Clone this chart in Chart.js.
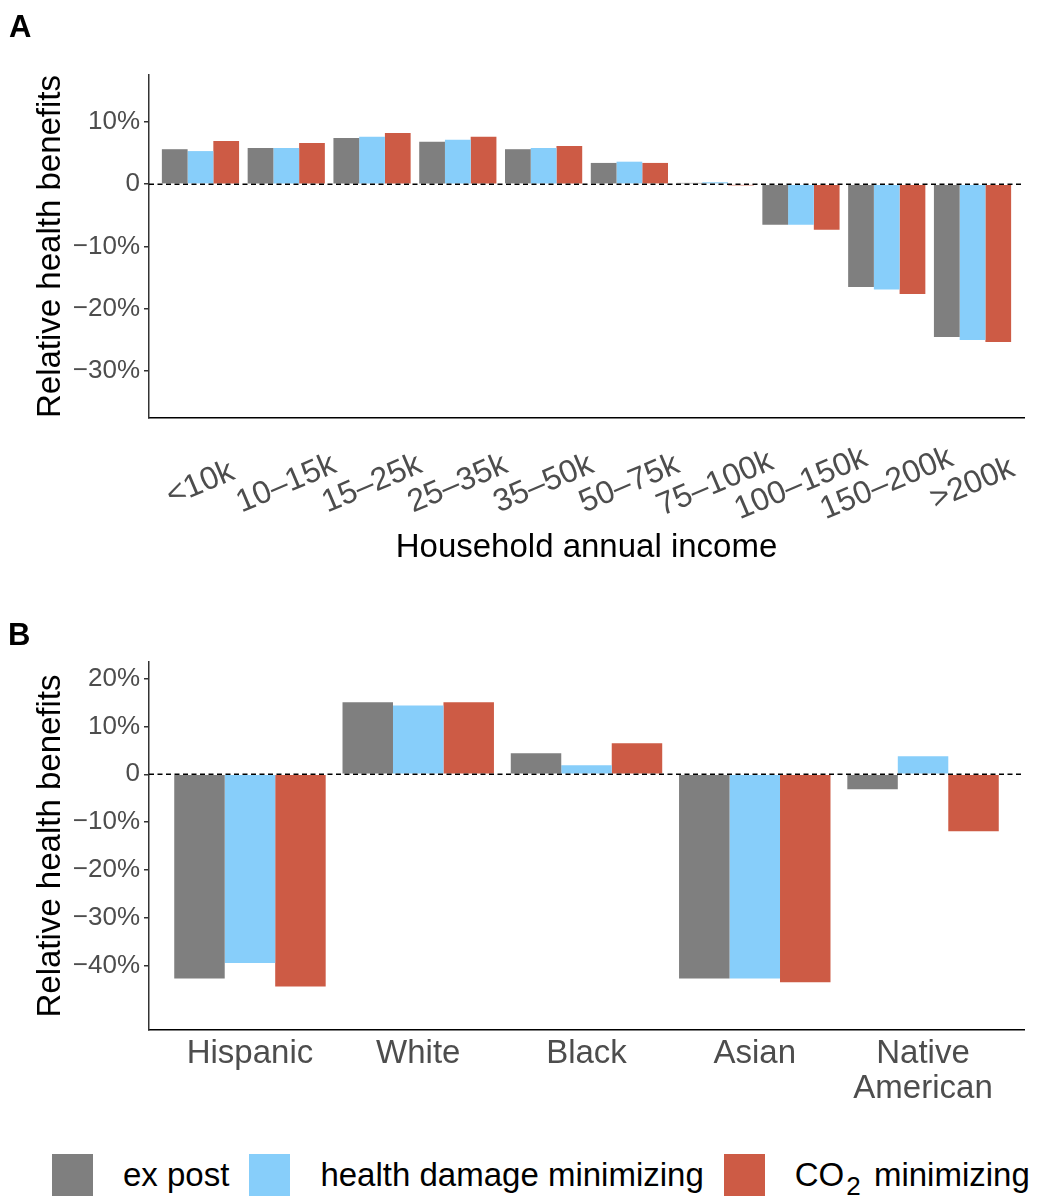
<!DOCTYPE html>
<html>
<head>
<meta charset="utf-8">
<script src="https://cdn.jsdelivr.net/npm/chart.js@4.4.0/dist/chart.umd.min.js"></script>
<style>
  html, body { margin: 0; padding: 0; background: #fff; }
  body { width: 1039px; height: 1197px; position: relative; overflow: hidden;
         font-family: "Liberation Sans", Arial, Helvetica, sans-serif; }
  canvas { position: absolute; left: 0; }
  #chartA { top: 0; }
  #chartB { top: 590px; }
  #legend { position: absolute; left: 52px; top: 1154px; height: 42px; display: flex;
            align-items: center; font-size: 33px; color: #000; white-space: nowrap; }
  .key { width: 41px; height: 42px; margin-right: 30px; flex: none; }
  .lab { margin-right: 20px; }
  .lab sub { font-size: 26px; vertical-align: -9px; line-height: 0; margin: 0 4px 0 2px; }
</style>
</head>
<body>
<canvas id="chartA" width="1039" height="590"></canvas>
<canvas id="chartB" width="1039" height="540"></canvas>
<div id="legend"></div>

<script>
// Relative health benefits (%) by household annual income
const incomeLabels = ['<10k', '10–15k', '15–25k', '25–35k', '35–50k', '50–75k', '75–100k', '100–150k', '150–200k', '>200k'];
const incomeExPost = [5.6, 5.8, 7.4, 6.8, 5.6, 3.4, 0.2, -6.5, -16.5, -24.5];
const incomeHealth = [5.3, 5.8, 7.6, 7.1, 5.8, 3.6, 0.3, -6.5, -16.9, -25.0];
const incomeCO2    = [6.9, 6.6, 8.2, 7.6, 6.1, 3.4, -0.2, -7.3, -17.6, -25.3];
const incomeTicks  = [10, 0, -10, -20, -30];

// Relative health benefits (%) by race / ethnicity
const raceLabels = ['Hispanic', 'White', 'Black', 'Asian', ['Native', 'American']];
const raceExPost = [-42.7, 15.1, 4.4, -42.7, -3.1];
const raceHealth = [-39.5, 14.4, 1.9, -42.7, 3.8];
const raceCO2    = [-44.4, 15.1, 6.5, -43.5, -11.9];
const raceTicks  = [20, 10, 0, -10, -20, -30, -40];

const seriesNames  = ['ex post', 'health damage minimizing', 'CO₂ minimizing'];
const seriesColors = ['#7F7F7F', '#87CEFA', '#CD5B45'];

const FONT = '"Liberation Sans", Arial, Helvetica, sans-serif';
const TICK_GREY = '#4D4D4D';
const AXIS_GREY = '#333333';

function pctLabel(v) {
  if (v === 0) return '0';
  return (v < 0 ? '\u2212' : '') + Math.abs(v) + '%';
}

// dashed reference line at zero, drawn over the bars
const zeroLine = {
  id: 'zeroLine',
  afterDatasetsDraw(chart) {
    const { ctx, chartArea } = chart;
    const y = chart.scales.y.getPixelForValue(0);
    ctx.save();
    ctx.beginPath();
    ctx.setLineDash([5, 3.5]);
    ctx.lineWidth = 1.5;
    ctx.strokeStyle = '#000';
    ctx.moveTo(chartArea.left, y);
    ctx.lineTo(chartArea.right, y);
    ctx.stroke();
    ctx.restore();
  }
};

// panel letter in the top-left corner
const panelTag = {
  id: 'panelTag',
  afterDraw(chart, args, opts) {
    const { ctx } = chart;
    ctx.save();
    ctx.font = 'bold 31px ' + FONT;
    ctx.fillStyle = '#000';
    ctx.textAlign = 'left';
    ctx.textBaseline = 'alphabetic';
    ctx.fillText(opts.text, opts.x, opts.y);
    ctx.restore();
  }
};

// slanted income-bracket labels, centred under each group
const slantedLabels = {
  id: 'slantedLabels',
  afterDraw(chart, args, opts) {
    if (!opts.labels) return;
    const { ctx, chartArea } = chart;
    const xs = chart.scales.x;
    ctx.save();
    ctx.font = opts.size + 'px ' + FONT;
    ctx.fillStyle = TICK_GREY;
    ctx.textAlign = 'center';
    ctx.textBaseline = 'middle';
    opts.labels.forEach((t, i) => {
      ctx.save();
      ctx.translate(xs.getPixelForValue(i), chartArea.bottom + opts.offset);
      ctx.rotate(-opts.angle * Math.PI / 180);
      ctx.fillText(t, 0, 0);
      ctx.restore();
    });
    ctx.restore();
  }
};

function makeChart(canvasId, cfg) {
  const n = cfg.labels.length;
  const datasets = [cfg.exPost, cfg.health, cfg.co2].map((vals, k) => ({
    label: seriesNames[k],
    data: vals.map((v, i) => ({ x: i, y: v })),
    backgroundColor: seriesColors[k],
    borderWidth: 0,
    categoryPercentage: 0.9,
    barPercentage: 1.0
  }));

  return new Chart(document.getElementById(canvasId), {
    type: 'bar',
    data: { datasets },
    plugins: [zeroLine, panelTag, slantedLabels],
    options: {
      responsive: false,
      animation: false,
      events: [],
      layout: { padding: { left: 0, right: 15, top: cfg.padTop, bottom: 0 } },
      plugins: {
        legend: { display: false },
        tooltip: { enabled: false },
        panelTag: cfg.tag,
        slantedLabels: cfg.slanted || {}
      },
      scales: {
        x: {
          type: 'linear',
          offset: false,
          min: -0.6,
          max: n - 1 + 0.6,
          afterBuildTicks: s => { s.ticks = cfg.labels.map((_, i) => ({ value: i })); },
          afterFit: s => { s.height = cfg.xHeight; },
          grid: { display: false, drawTicks: false, offset: false },
          border: { display: true, color: '#000', width: 1.5 },
          ticks: {
            display: cfg.xTicksShown,
            autoSkip: false,
            maxRotation: 0,
            minRotation: 0,
            padding: 6,
            color: TICK_GREY,
            font: { family: FONT, size: 33, lineHeight: 1.07 },
            callback: v => cfg.labels[v]
          },
          title: cfg.xTitle
        },
        y: {
          min: cfg.yMin,
          max: cfg.yMax,
          afterBuildTicks: s => { s.ticks = cfg.yTicks.map(v => ({ value: v })); },
          afterFit: s => { s.width = 149; },
          grid: { display: true, drawOnChartArea: false, drawTicks: true, tickLength: 5,
                  color: AXIS_GREY, lineWidth: 1.5 },
          border: { display: true, color: AXIS_GREY, width: 1.5 },
          ticks: {
            padding: 4,
            color: TICK_GREY,
            font: { family: FONT, size: 26 },
            callback: v => pctLabel(v)
          },
          title: {
            display: true,
            text: 'Relative health benefits',
            color: '#000',
            font: { family: FONT, size: 33 },
            padding: { top: 31, bottom: 0 }
          }
        }
      }
    }
  });
}

makeChart('chartA', {
  labels: incomeLabels,
  exPost: incomeExPost, health: incomeHealth, co2: incomeCO2,
  yMin: -37.5, yMax: 17.5, yTicks: incomeTicks,
  padTop: 75, xHeight: 172,
  xTicksShown: false,
  slanted: { labels: incomeLabels, size: 32, angle: 23, offset: 66 },
  xTitle: {
    display: true,
    text: 'Household annual income',
    color: '#000',
    font: { family: FONT, size: 33 },
    padding: { top: 0, bottom: 22 }
  },
  tag: { text: 'A', x: 9, y: 37 }
});

makeChart('chartB', {
  labels: raceLabels,
  exPost: raceExPost, health: raceHealth, co2: raceCO2,
  yMin: -53.5, yMax: 23.5, yTicks: raceTicks,
  padTop: 72, xHeight: 100,
  xTicksShown: true,
  xTitle: { display: false },
  tag: { text: 'B', x: 8, y: 55 }
});

// legend row under both panels
const legend = document.getElementById('legend');
seriesNames.forEach((name, k) => {
  const key = document.createElement('span');
  key.className = 'key';
  key.style.background = seriesColors[k];
  const lab = document.createElement('span');
  lab.className = 'lab';
  lab.innerHTML = name.replace('₂', '<sub>2</sub>');
  legend.appendChild(key);
  legend.appendChild(lab);
});
</script>
</body>
</html>
